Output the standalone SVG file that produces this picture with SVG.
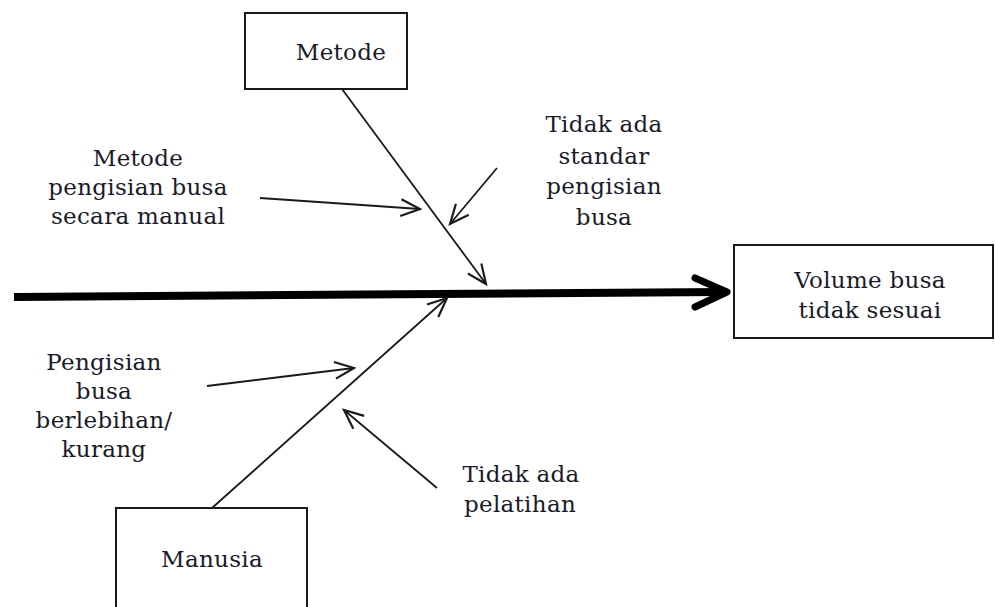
<svg xmlns="http://www.w3.org/2000/svg" width="995" height="607" viewBox="0 0 995 607">
  <style>
    .box { fill: #ffffff; stroke: #1a1a1a; stroke-width: 2; }
    .lbl { font-family: "DejaVu Serif", "Liberation Serif", serif; font-size: 23px; fill: #1a1a2a; text-anchor: middle; letter-spacing: 0.3px; }
    .cause { fill: none; stroke: #1a1a1a; stroke-width: 1.8; marker-end: url(#open); }
  </style>
  <defs>
    <marker id="open" markerUnits="userSpaceOnUse" markerWidth="24" markerHeight="24" viewBox="-18 -9 20 18" refX="0" refY="0" orient="auto">
      <path d="M-16,-7 L0,0 L-16,7" fill="none" stroke="#1a1a1a" stroke-width="1.8" stroke-linejoin="miter"/>
    </marker>
    <clipPath id="clipLeftLow">
      <rect x="0" y="330" width="220" height="132"/>
    </clipPath>
  </defs>

  <rect width="995" height="607" fill="#ffffff"/>

  <!-- connectors: spine, category bones and cause arrows -->
  <g id="connectors">
    <line x1="14" y1="297" x2="722" y2="292" stroke="#000" stroke-width="8"/>
    <polyline points="695,278 727,292 695,307" fill="none" stroke="#000" stroke-width="7" stroke-linejoin="round" stroke-linecap="round"/>
    <line class="cause" x1="342" y1="89" x2="486" y2="284"/>
    <line class="cause" x1="212" y1="508" x2="447" y2="298"/>
    <line class="cause" x1="260" y1="198" x2="420" y2="209"/>
    <line class="cause" x1="497" y1="168" x2="450" y2="224"/>
    <line class="cause" x1="207" y1="386" x2="354" y2="368"/>
    <line class="cause" x1="437" y1="488" x2="344" y2="410"/>
  </g>

  <g id="effect">
    <rect class="box" x="734" y="245" width="259" height="93"/>
    <text class="lbl" x="870" y="288">Volume busa</text>
    <text class="lbl" x="870" y="318">tidak sesuai</text>
  </g>

  <g id="metode">
    <rect class="box" x="245" y="13" width="162" height="76"/>
    <text class="lbl" x="341" y="60">Metode</text>
  </g>

  <g id="manusia">
    <rect class="box" x="116" y="508" width="191" height="110"/>
    <text class="lbl" x="212" y="567">Manusia</text>
  </g>

  <g id="cause-manual">
    <text class="lbl" x="138" y="166">Metode</text>
    <text class="lbl" x="138" y="195">pengisian busa</text>
    <text class="lbl" x="138" y="224">secara manual</text>
  </g>

  <g id="cause-standar">
    <text class="lbl" x="604" y="132">Tidak ada</text>
    <text class="lbl" x="604" y="164">standar</text>
    <text class="lbl" x="604" y="194">pengisian</text>
    <text class="lbl" x="604" y="225">busa</text>
  </g>

  <g id="cause-pengisian" clip-path="url(#clipLeftLow)">
    <text class="lbl" x="104" y="370">Pengisian</text>
    <text class="lbl" x="104" y="399">busa</text>
    <text class="lbl" x="104" y="428">berlebihan/</text>
    <text class="lbl" x="104" y="457">kurang</text>
  </g>

  <g id="cause-pelatihan">
    <text class="lbl" x="521" y="482">Tidak ada</text>
    <text class="lbl" x="520" y="512">pelatihan</text>
  </g>
</svg>
